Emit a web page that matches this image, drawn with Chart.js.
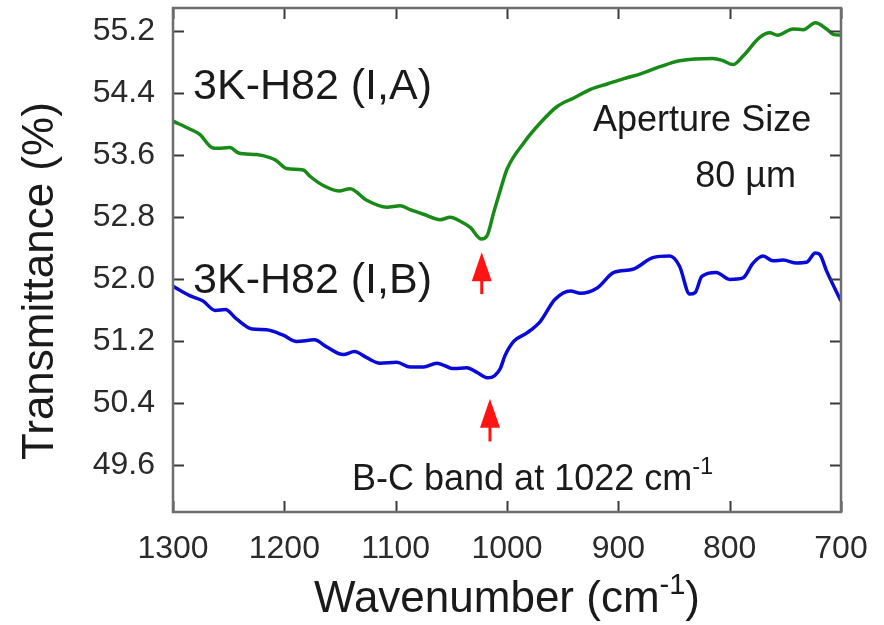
<!DOCTYPE html>
<html>
<head>
<meta charset="utf-8">
<script src="https://cdn.jsdelivr.net/npm/chart.js@4.4.1/dist/chart.umd.min.js"></script>
<style>
  html, body { margin: 0; padding: 0; background: #fff; }
</style>
</head>
<body>
<canvas id="chart-1" width="884" height="625"></canvas>
<script>
  // Données (nombre d'onde en cm-1, transmittance en %)
  const waveA = [1300, 1285, 1276, 1265, 1260, 1249, 1241, 1225, 1213, 1207, 1198, 1183, 1177, 1165, 1151, 1141,
    1126, 1108, 1096, 1087, 1075, 1060, 1051, 1042, 1033, 1023, 1018, 1012, 1006, 1000, 985, 970, 955, 940, 925,
    910, 895, 880, 865, 853, 845, 815, 806, 797, 788, 773, 764, 757, 743, 734, 723, 713, 707, 700];
  const transA = [54.04, 53.94, 53.87, 53.70, 53.69, 53.70, 53.63, 53.61, 53.57, 53.53, 53.43, 53.41, 53.33, 53.21,
    53.14, 53.17, 53.02, 52.93, 52.95, 52.90, 52.84, 52.77, 52.80, 52.75, 52.67, 52.52, 52.56, 52.86, 53.15, 53.42,
    53.76, 54.02, 54.23, 54.34, 54.45, 54.52, 54.59, 54.65, 54.73, 54.79, 54.82, 54.85, 54.82, 54.77, 54.88, 55.12,
    55.18, 55.15, 55.23, 55.22, 55.31, 55.23, 55.16, 55.15];

  const waveB = [1300, 1285, 1273, 1262, 1253, 1243, 1229, 1216, 1201, 1189, 1173, 1162, 1147, 1137, 1126, 1114,
    1099, 1087, 1075, 1063, 1048, 1036, 1027, 1017, 1011, 1006, 1002, 994, 982, 970, 957, 943, 934, 919, 904, 887,
    869, 854, 845, 836, 831, 825, 812, 800, 788, 779, 770, 761, 752, 740, 731, 723, 719, 713, 700];
  const transB = [51.91, 51.79, 51.72, 51.60, 51.61, 51.49, 51.36, 51.35, 51.28, 51.20, 51.22, 51.13, 51.03, 51.07,
    50.99, 50.92, 50.93, 50.87, 50.87, 50.92, 50.85, 50.86, 50.80, 50.73, 50.76, 50.85, 51.01, 51.20, 51.31, 51.46,
    51.74, 51.85, 51.82, 51.89, 52.09, 52.13, 52.28, 52.30, 52.17, 51.81, 51.83, 52.04, 52.09, 52.00, 52.02, 52.21,
    52.30, 52.24, 52.25, 52.21, 52.22, 52.34, 52.32, 52.11, 51.72];

  const seriesNames = ['3K-H82 (I,A)', '3K-H82 (I,B)'];
  const xTicks = [1300, 1200, 1100, 1000, 900, 800, 700];
  const yTicks = [49.6, 50.4, 51.2, 52.0, 52.8, 53.6, 54.4, 55.2];

  const police = 'Liberation Sans, Arial, sans-serif';

  // petit outil pour écrire un texte avec exposant
  function drawParts(ctx, x, y, parts, size) {
    let cx = x;
    parts.forEach(p => {
      const s = p.sup ? size * 0.66 : size;
      ctx.font = s + 'px ' + police;
      ctx.fillText(p.t, cx, p.sup ? y - size * 0.42 : y);
      cx += ctx.measureText(p.t).width;
    });
  }
  function partsWidth(ctx, parts, size) {
    let w = 0;
    parts.forEach(p => {
      ctx.font = (p.sup ? size * 0.66 : size) + 'px ' + police;
      w += ctx.measureText(p.t).width;
    });
    return w;
  }

  // cadre, graduations vers l'intérieur, titres et annotations
  const decor = {
    id: 'decor',
    afterDatasetsDraw(chart) {
      const ctx = chart.ctx;
      const a = chart.chartArea;
      const sx = chart.scales.x, sy = chart.scales.y;
      ctx.save();
      ctx.strokeStyle = '#3a3a3a';
      ctx.lineWidth = 2;
      xTicks.forEach(v => {
        const px = Math.round(sx.getPixelForValue(v)) + 0.5;
        ctx.beginPath();
        ctx.moveTo(px, a.bottom); ctx.lineTo(px, a.bottom - 11);
        ctx.moveTo(px, a.top); ctx.lineTo(px, a.top + 11);
        ctx.stroke();
      });
      yTicks.forEach(v => {
        const py = Math.round(sy.getPixelForValue(v)) + 0.5;
        ctx.beginPath();
        ctx.moveTo(a.left, py); ctx.lineTo(a.left + 11, py);
        ctx.moveTo(a.right, py); ctx.lineTo(a.right - 11, py);
        ctx.stroke();
      });
      ctx.strokeStyle = '#6e6e6e';
      ctx.lineWidth = 2.5;
      ctx.strokeRect(a.left, a.top, a.right - a.left, a.bottom - a.top);

      // flèches rouges
      ctx.fillStyle = '#ff1414';
      ctx.strokeStyle = '#ff1414';
      chart.options.plugins.decor.arrows.forEach(ar => {
        const px = sx.getPixelForValue(ar.x);
        const tip = sy.getPixelForValue(ar.tip);
        const tail = sy.getPixelForValue(ar.tail);
        ctx.lineWidth = 3;
        ctx.beginPath();
        ctx.moveTo(px, tip + 20); ctx.lineTo(px, tail);
        ctx.stroke();
        ctx.beginPath();
        ctx.moveTo(px, tip);
        ctx.lineTo(px - 10, tip + 29);
        ctx.lineTo(px + 10, tip + 29);
        ctx.closePath();
        ctx.fill();
      });

      // textes
      ctx.fillStyle = '#1a1a1a';
      ctx.textBaseline = 'alphabetic';
      ctx.textAlign = 'left';
      chart.options.plugins.decor.notes.forEach(n => {
        drawParts(ctx, sx.getPixelForValue(n.x), sy.getPixelForValue(n.y), n.parts, n.size);
      });

      // titre de l'axe x
      const xt = [{ t: 'Wavenumber (cm' }, { t: '-1', sup: true }, { t: ')' }];
      const w = partsWidth(ctx, xt, 44);
      drawParts(ctx, (a.left + a.right) / 2 - w / 2, 612, xt, 44);

      // titre de l'axe y
      ctx.translate(53, 460);
      ctx.rotate(-Math.PI / 2);
      ctx.font = '44px ' + police;
      ctx.fillText('Transmittance (%)', 0, 0);
      ctx.restore();
    }
  };

  const ctx = document.getElementById('chart-1');
  new Chart(ctx, {
    type: 'line',
    data: {
      datasets: [
        {
          label: seriesNames[0],
          data: waveA.map((w, i) => ({ x: w, y: transA[i] })),
          borderColor: '#178a17',
          borderWidth: 3.5,
          pointRadius: 0,
          cubicInterpolationMode: 'monotone'
        },
        {
          label: seriesNames[1],
          data: waveB.map((w, i) => ({ x: w, y: transB[i] })),
          borderColor: '#0a0ad8',
          borderWidth: 3.5,
          pointRadius: 0,
          cubicInterpolationMode: 'monotone'
        }
      ]
    },
    options: {
      responsive: false,
      animation: false,
      layout: { padding: { top: 8, right: 43, left: 0, bottom: 0 } },
      scales: {
        x: {
          type: 'linear',
          reverse: true,
          min: 700,
          max: 1300,
          afterFit: s => { s.height = 113; s.paddingLeft = 0; s.paddingRight = 0; },
          afterBuildTicks: s => { s.ticks = xTicks.map(v => ({ value: v })); },
          grid: { display: false, drawTicks: false },
          border: { display: false },
          ticks: {
            padding: 18,
            maxRotation: 0,
            color: '#2a2a2a',
            font: { family: police, size: 32 },
            callback: v => String(v)
          }
        },
        y: {
          min: 49.0,
          max: 55.5,
          afterFit: s => { s.width = 173; s.paddingTop = 0; s.paddingBottom = 0; },
          afterBuildTicks: s => { s.ticks = yTicks.map(v => ({ value: v })); },
          grid: { display: false, drawTicks: false },
          border: { display: false },
          ticks: {
            padding: 18,
            color: '#2a2a2a',
            font: { family: police, size: 32 },
            callback: v => v.toFixed(1)
          }
        }
      },
      plugins: {
        legend: { display: false },
        tooltip: { enabled: false },
        decor: {
          arrows: [
            { x: 1022.7, tip: 52.35, tail: 51.81 },
            { x: 1015.3, tip: 50.46, tail: 49.91 }
          ],
          notes: [
            { x: 1282, y: 54.32, size: 43, parts: [{ t: seriesNames[0] }] },
            { x: 1282, y: 51.83, size: 43, parts: [{ t: seriesNames[1] }] },
            { x: 922.7, y: 53.91, size: 36, parts: [{ t: 'Aperture Size' }] },
            { x: 831, y: 53.19, size: 36, parts: [{ t: '80 µm' }] },
            { x: 1139.2, y: 49.29, size: 36, parts: [{ t: 'B-C band at 1022 cm' }, { t: '-1', sup: true }] }
          ]
        }
      }
    },
    plugins: [decor]
  });
</script>
</body>
</html>
